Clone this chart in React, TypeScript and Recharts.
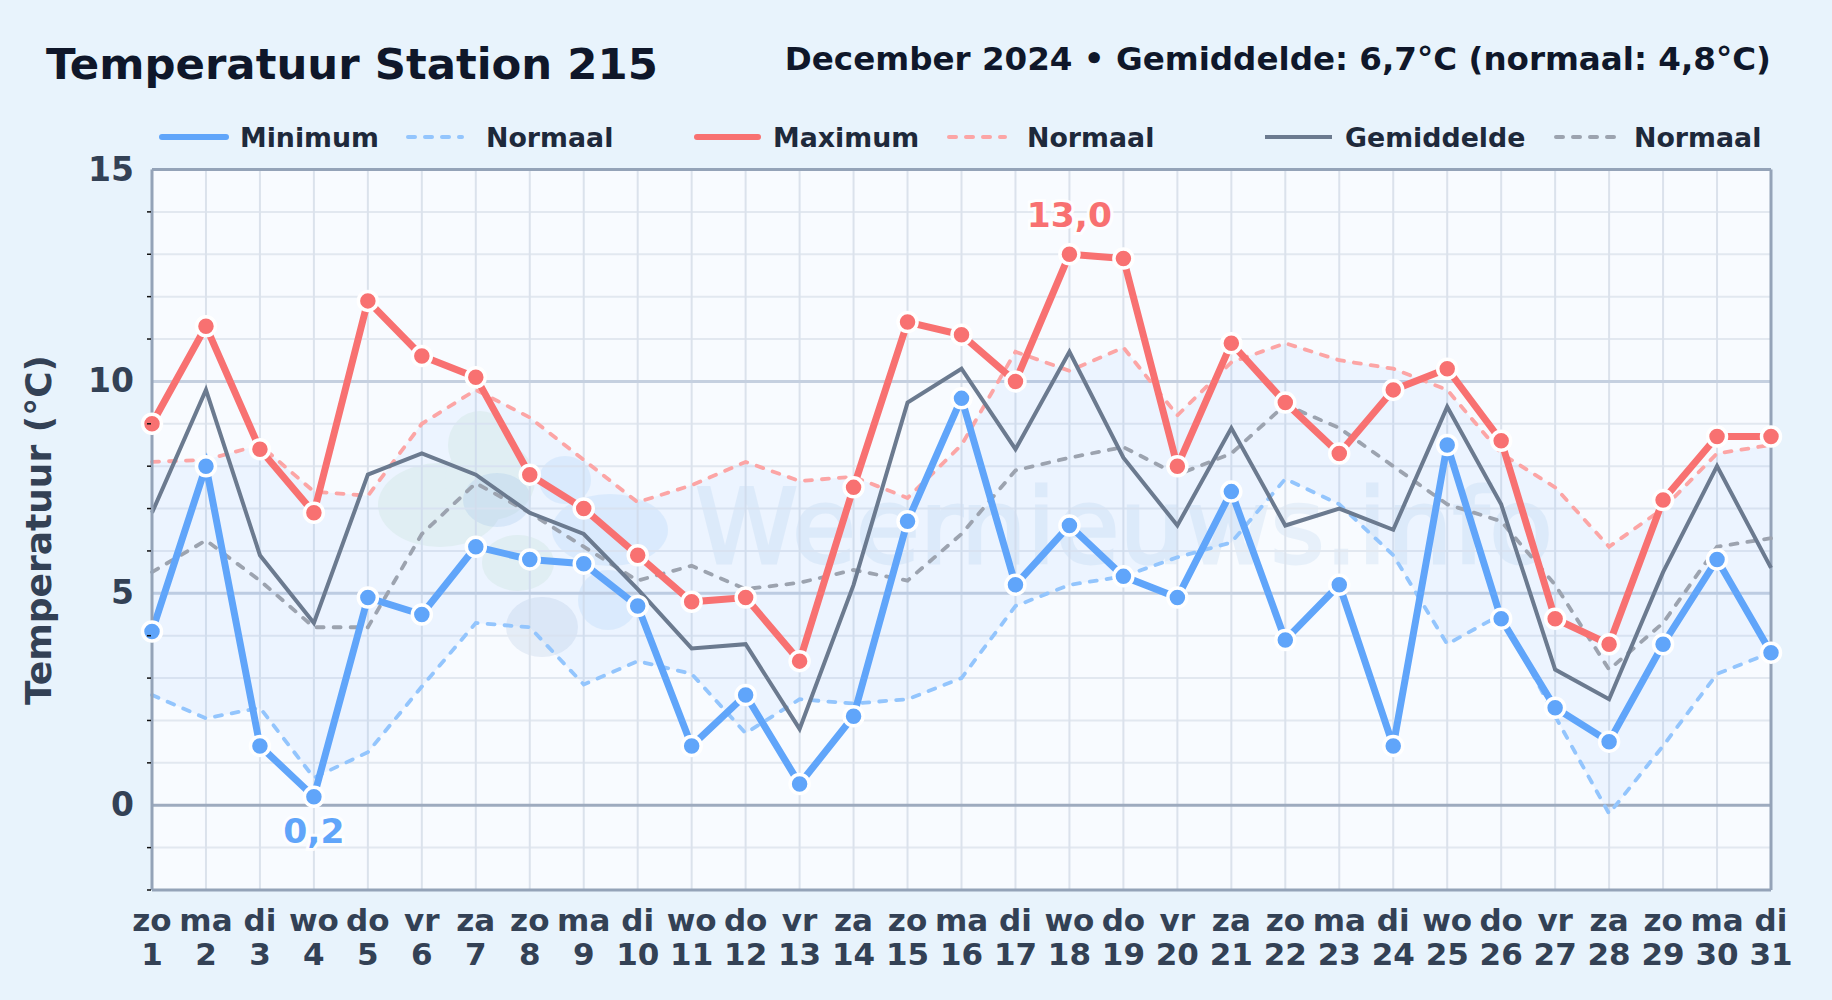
import { ComposedChart, Line, Area, XAxis, YAxis, CartesianGrid, ReferenceLine } from 'recharts';

const DAYS = ['zo','ma','di','wo','do','vr','za','zo','ma','di','wo','do','vr','za','zo','ma','di','wo','do','vr','za','zo','ma','di','wo','do','vr','za','zo','ma','di'];
const DATES = [1,2,3,4,5,6,7,8,9,10,11,12,13,14,15,16,17,18,19,20,21,22,23,24,25,26,27,28,29,30,31];
const MINIMUM = [4.1,8.0,1.4,0.2,4.9,4.5,6.1,5.8,5.7,4.7,1.4,2.6,0.5,2.1,6.7,9.6,5.2,6.6,5.4,4.9,7.4,3.9,5.2,1.4,8.5,4.4,2.3,1.5,3.8,5.8,3.6];
const MAXIMUM = [9.0,11.3,8.4,6.9,11.9,10.6,10.1,7.8,7.0,5.9,4.8,4.9,3.4,7.5,11.4,11.1,10.0,13.0,12.9,8.0,10.9,9.5,8.3,9.8,10.3,8.6,4.4,3.8,7.2,8.7,8.7];
const AVERAGE = [6.9,9.8,5.9,4.3,7.8,8.3,7.8,6.9,6.4,5.1,3.7,3.8,1.8,5.2,9.5,10.3,8.4,10.7,8.2,6.6,8.9,6.6,7.0,6.5,9.4,7.1,3.2,2.5,5.5,8.0,5.6];
const NORMAL_MIN = [2.6,2.05,2.3,0.65,1.25,2.8,4.3,4.2,2.85,3.4,3.1,1.7,2.5,2.4,2.5,3.0,4.7,5.2,5.4,5.85,6.2,7.7,7.1,5.9,3.8,4.5,2.1,-0.2,1.4,3.1,3.6];
const NORMAL_MAX = [8.1,8.15,8.5,7.4,7.3,9.0,9.8,9.15,8.15,7.15,7.55,8.1,7.65,7.75,7.25,8.5,10.7,10.25,10.8,9.2,10.45,10.9,10.5,10.3,9.8,8.3,7.5,6.1,7.0,8.3,8.5];
const NORMAL_AVG = [5.5,6.25,5.3,4.2,4.2,6.4,7.6,6.9,6.1,5.3,5.65,5.1,5.25,5.55,5.3,6.4,7.9,8.2,8.45,7.8,8.3,9.45,8.9,8.0,7.1,6.7,5.2,3.2,4.3,6.1,6.3];

const MAJOR_TICKS = [0, 5, 10, 15];
const MINOR_TICKS = [-2,-1,1,2,3,4,6,7,8,9,11,12,13,14];

const data = DATES.map((date, i) => ({
  date,
  label: DAYS[i],
  min: MINIMUM[i],
  max: MAXIMUM[i],
  avg: AVERAGE[i],
  nMin: NORMAL_MIN[i],
  nMax: NORMAL_MAX[i],
  nAvg: NORMAL_AVG[i],
  band: [NORMAL_MIN[i], NORMAL_MAX[i]],
}));

const FONT = '"DejaVu Sans", sans-serif';
const BLUE = '#60a5fa';
const RED = '#f87171';
const SLATE = '#6b7a8f';
const W = 1832;
const H = 1000;
const PLOT = { left: 152, right: 1771, top: 169.5, bottom: 890 };

function DayTick({ x, y, payload, index }: any) {
  return (
    <g fontFamily={FONT} fontWeight={700} fontSize={31} fill="#334155" textAnchor="middle">
      <text x={x} y={y + 33}>{DAYS[index]}</text>
      <text x={x} y={y + 67}>{payload.value}</text>
    </g>
  );
}

function TempTick({ x, y, payload }: any) {
  if (MAJOR_TICKS.includes(payload.value)) {
    return (
      <text x={x - 10} y={y + 11} fontFamily={FONT} fontWeight={700} fontSize={33} fill="#334155" textAnchor="end">
        {payload.value}
      </text>
    );
  }
  return <line x1={x + 3} x2={x + 7} y1={y} y2={y} stroke="#111" strokeWidth={1.5} />;
}

// labels only the coldest and warmest value of the month
function extremeLabel(values: number[], pick: number, color: string, dy: number) {
  return ({ x, y, index }: any) => {
    if (values[index] !== pick) return null;
    return (
      <text x={x} y={y + dy} textAnchor="middle" fontFamily={FONT} fontWeight={700} fontSize={34.5}
        fill={color} stroke="#fff" strokeWidth={6} strokeOpacity={0.85} paintOrder="stroke">
        {String(values[index].toFixed(1)).replace('.', ',')}
      </text>
    );
  };
}

const dot = (color: string) => ({ r: 9.5, fill: color, stroke: '#fff', strokeWidth: 3.5 });

function LegendRow() {
  const txt = { fontFamily: FONT, fontWeight: 700, fontSize: 26.8, fill: '#1e293b' };
  const y = 137;
  const dash = (x1: number, x2: number, color: string) => (
    <line x1={x1} x2={x2} y1={y} y2={y} stroke={color} strokeWidth={4} strokeDasharray="7 10" strokeLinecap="round" />
  );
  return (
    <svg width={W} height={170} style={{ position: 'absolute', left: 0, top: 0 }}>
      <line x1={162} x2={226} y1={y} y2={y} stroke={BLUE} strokeWidth={6} strokeLinecap="round" />
      <text x={240} y={y + 10} {...txt}>Minimum</text>
      {dash(408, 462, '#93c5fd')}
      <text x={486} y={y + 10} {...txt}>Normaal</text>
      <line x1={697} x2={758} y1={y} y2={y} stroke={RED} strokeWidth={6} strokeLinecap="round" />
      <text x={773} y={y + 10} {...txt}>Maximum</text>
      {dash(949, 1005, '#fca5a5')}
      <text x={1027} y={y + 10} {...txt}>Normaal</text>
      <line x1={1265} x2={1332} y1={y} y2={y} stroke={SLATE} strokeWidth={4} />
      <text x={1345} y={y + 10} {...txt}>Gemiddelde</text>
      {dash(1556, 1616, '#9ca3af')}
      <text x={1634} y={y + 10} {...txt}>Normaal</text>
    </svg>
  );
}

function Watermark() {
  return (
    <svg width={W} height={H} style={{ position: 'absolute', left: 0, top: 0 }}>
      <g fill="#a9d8b4" opacity={0.16}>
        <ellipse cx={480} cy={445} rx={32} ry={34} />
        <ellipse cx={440} cy={505} rx={62} ry={42} />
        <ellipse cx={490} cy={480} rx={45} ry={40} />
        <ellipse cx={518} cy={563} rx={36} ry={28} />
      </g>
      <g fill="#8fc4f5" opacity={0.18}>
        <ellipse cx={565} cy={480} rx={26} ry={24} />
        <ellipse cx={610} cy={530} rx={58} ry={36} />
        <ellipse cx={608} cy={600} rx={30} ry={30} />
      </g>
      <ellipse cx={497} cy={500} rx={34} ry={27} fill="#9cbfe6" opacity={0.24} />
      <ellipse cx={542} cy={627} rx={36} ry={30} fill="#a5bcd9" opacity={0.22} />
      <text x={1124} y={563} textAnchor="middle" fontFamily={FONT} fontSize={104} fill="#5b9bd5" stroke="#5b9bd5" strokeWidth={3} opacity={0.1}>
        Weernieuws.info
      </text>
    </svg>
  );
}

export default function App() {
  return (
    <div style={{ position: 'relative', width: W, height: H, background: '#e8f3fc', overflow: 'hidden' }}>
      <style>{'body{margin:0}'}</style>
      <div style={{
        position: 'absolute', left: PLOT.left, top: PLOT.top,
        width: PLOT.right - PLOT.left, height: PLOT.bottom - PLOT.top, background: '#f8fbff',
      }} />
      <Watermark />
      <div style={{ position: 'absolute', left: 46, top: 39, font: `700 43.4px ${FONT}`, color: '#0f172a', whiteSpace: 'nowrap' }}>
        Temperatuur Station 215
      </div>
      <div style={{ position: 'absolute', right: 61, top: 40, font: `700 32.55px ${FONT}`, color: '#0f172a', whiteSpace: 'nowrap' }}>
        December 2024 • Gemiddelde: 6,7°C (normaal: 4,8°C)
      </div>
      <LegendRow />
      <div style={{
        position: 'absolute', left: 38, top: 530, font: `700 36px ${FONT}`, color: '#334155', whiteSpace: 'nowrap',
        transform: 'translate(-50%,-50%) rotate(-90deg)',
      }}>
        Temperatuur (°C)
      </div>
      <div style={{ position: 'absolute', left: 0, top: 0 }}>
        <ComposedChart width={W} height={H} data={data}
          margin={{ left: 0, right: W - PLOT.right, top: PLOT.top, bottom: 0 }}>
          <CartesianGrid stroke="#e2e8f0" strokeWidth={2} vertical={false} horizontalValues={MINOR_TICKS} />
          <CartesianGrid stroke="#dbe2ec" strokeWidth={2} horizontal={false} />
          <CartesianGrid stroke="#c5d0e0" strokeWidth={3} vertical={false} horizontalValues={[5, 10]} />
          <XAxis dataKey="date" scale="point" padding={{ left: 0, right: 0 }} interval={0} height={H - PLOT.bottom}
            tick={<DayTick />} tickLine={false} axisLine={{ stroke: '#94a3b8', strokeWidth: 3 }} />
          <YAxis type="number" domain={[-2, 15]} ticks={[...MINOR_TICKS, ...MAJOR_TICKS]} interval={0} width={PLOT.left}
            tick={<TempTick />} tickLine={false} axisLine={{ stroke: '#94a3b8', strokeWidth: 3 }} />
          <ReferenceLine y={0} stroke="#9eabbf" strokeWidth={3} />
          <ReferenceLine y={15} stroke="#94a3b8" strokeWidth={3} />
          <ReferenceLine x={31} stroke="#94a3b8" strokeWidth={3} />
          <Area dataKey="band" fill="#60a5fa" fillOpacity={0.08} stroke="none" isAnimationActive={false} dot={false} activeDot={false} />
          <Line dataKey="nMin" stroke="#93c5fd" strokeWidth={3.8} strokeDasharray="7 10" strokeLinecap="round" dot={false} isAnimationActive={false} />
          <Line dataKey="nMax" stroke="#fca5a5" strokeWidth={3.8} strokeDasharray="7 10" strokeLinecap="round" dot={false} isAnimationActive={false} />
          <Line dataKey="nAvg" stroke="#9ca3af" strokeWidth={3.8} strokeDasharray="7 10" strokeLinecap="round" dot={false} isAnimationActive={false} />
          <Line dataKey="avg" stroke={SLATE} strokeWidth={4} dot={false} isAnimationActive={false} />
          <Line dataKey="min" stroke={BLUE} strokeWidth={7} dot={dot(BLUE)} isAnimationActive={false}
            label={extremeLabel(MINIMUM, Math.min(...MINIMUM), BLUE, 46)} />
          <Line dataKey="max" stroke={RED} strokeWidth={7} dot={dot(RED)} isAnimationActive={false}
            label={extremeLabel(MAXIMUM, Math.max(...MAXIMUM), RED, -27)} />
        </ComposedChart>
      </div>
    </div>
  );
}
